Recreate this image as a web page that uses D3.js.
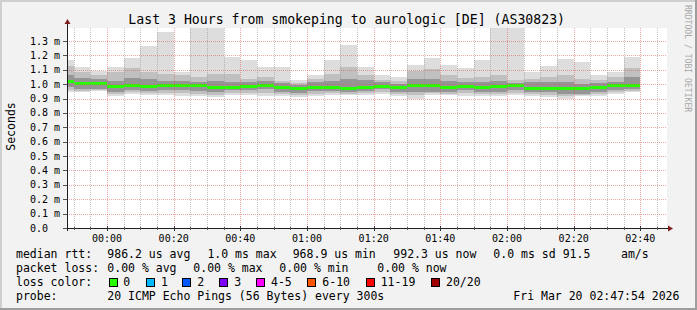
<!DOCTYPE html>
<html><head><meta charset="utf-8">
<script src="https://cdn.jsdelivr.net/npm/d3@7"></script>
<style>
html,body{margin:0;padding:0;background:#f2f2f2;}
svg{display:block;font-family:"DejaVu Sans Mono",monospace;}
text{white-space:pre;}
</style></head><body>
<svg id="c" width="697" height="310"></svg>
<script>
// ---- data (ms) : one entry per 5-minute step, labelled by step end time ----
const barEnd = ["23:50","23:55","00:00","00:05","00:10","00:15","00:20","00:25","00:30","00:35",
  "00:40","00:45","00:50","00:55","01:00","01:05","01:10","01:15","01:20","01:25",
  "01:30","01:35","01:40","01:45","01:50","01:55","02:00","02:05","02:10","02:15",
  "02:20","02:25","02:30","02:35","02:40"];
const maxV   = [1.170,1.117,1.094,1.122,1.180,1.267,1.360,1.083,1.420,1.410,
  1.186,1.170,1.117,1.122,1.032,1.064,1.170,1.274,1.117,1.060,
  1.048,1.136,1.180,1.136,1.113,1.170,1.400,1.410,1.083,1.129,
  1.175,1.152,1.060,1.083,1.186];
const midHi  = [1.124,1.083,1.064,1.083,1.110,1.083,1.071,1.060,1.048,1.071,
  1.071,1.037,1.048,1.025,1.009,1.037,1.071,1.117,1.064,1.032,
  1.025,1.094,1.106,1.060,1.041,1.048,1.064,1.032,1.037,1.048,
  1.060,1.037,1.032,1.048,1.110];
const darkHi = [1.060,1.044,1.037,1.025,1.041,1.037,1.025,1.025,1.018,1.025,
  1.018,1.013,1.025,1.009,0.995,1.013,1.025,1.037,1.030,1.013,
  1.002,1.037,1.037,1.025,1.018,1.013,1.025,1.009,1.013,1.013,
  1.018,1.002,1.009,1.018,1.048];
const median = [1.020,1.006,1.006,0.983,0.990,0.983,0.992,0.992,0.990,0.979,
  0.979,0.986,0.990,0.976,0.972,0.979,0.979,0.972,0.979,0.986,
  0.976,0.993,0.988,0.979,0.986,0.976,0.983,0.990,0.972,0.972,
  0.972,0.969,0.974,0.988,0.992];
const darkLo = [0.979,0.967,0.967,0.944,0.956,0.951,0.956,0.956,0.949,0.944,
  0.956,0.960,0.963,0.944,0.937,0.949,0.949,0.944,0.953,0.963,
  0.944,0.944,0.944,0.944,0.956,0.944,0.944,0.956,0.944,0.944,
  0.933,0.933,0.944,0.956,0.967];
const midLo  = [0.960,0.955,0.958,0.928,0.944,0.938,0.938,0.935,0.932,0.926,
  0.938,0.940,0.940,0.929,0.923,0.932,0.937,0.932,0.937,0.946,
  0.929,0.921,0.935,0.932,0.935,0.930,0.930,0.938,0.930,0.926,
  0.915,0.923,0.929,0.943,0.955];
const minV   = [0.944,0.944,0.949,0.914,0.933,0.926,0.921,0.916,0.916,0.909,
  0.921,0.921,0.916,0.914,0.909,0.916,0.926,0.921,0.921,0.930,
  0.914,0.898,0.926,0.921,0.914,0.916,0.916,0.921,0.916,0.909,
  0.898,0.914,0.914,0.930,0.944];

const yTickValues = [0,0.1,0.2,0.3,0.4,0.5,0.6,0.7,0.8,0.9,1.0,1.1,1.2,1.3];
const yTickLabels = ["0.0","0.1 m","0.2 m","0.3 m","0.4 m","0.5 m","0.6 m","0.7 m","0.8 m","0.9 m","1.0 m","1.1 m","1.2 m","1.3 m"];
const xTickLabels = ["00:00","00:20","00:40","01:00","01:20","01:40","02:00","02:20","02:40"];

const lossLabels = ["0","1","2","3","4-5","6-10","11-19","20/20"];
const lossColors = ["#26ff00","#00b8ff","#0059ff","#7e00ff","#ff00ff","#ff5500","#ff0000","#a10000"];

const titleText = "Last 3 Hours from smokeping to aurologic [DE] (AS30823)";
const legendRtt  = ["median rtt:","986.2 us avg","1.0 ms max","968.9 us min","992.3 us now","0.0 ms sd","91.5","am/s"];
const legendLoss = ["packet loss:","0.00 % avg","0.00 % max","0.00 % min","0.00 % now"];
const probeText = ["probe:","20 ICMP Echo Pings (56 Bytes) every 300s","Fri Mar 20 02:47:54 2026"];

// ---- layout ----
const W = 697, H = 310;
const X0 = 67, X1 = 667, Y0 = 228, Y1 = 28;
const svg = d3.select("#c");

function toDate(hm){
  const [h,m] = hm.split(":").map(Number);
  return new Date(Date.UTC(2026,2,h>=12?19:20,h,m));
}
const tStart = toDate("23:48"), tEnd = toDate("02:48");
const x = d3.scaleUtc().domain([tStart,tEnd]).range([X0,X1]);
const y = d3.scaleLinear().domain([0,1.39]).range([Y0,Y1]);

// background & frame
svg.append("rect").attr("width",W).attr("height",H).attr("fill","#f2f2f2");
svg.append("rect").attr("x",0).attr("y",0).attr("width",W).attr("height",2).attr("fill","#cfcfcf");
svg.append("rect").attr("x",0).attr("y",0).attr("width",2).attr("height",H).attr("fill","#cfcfcf");
svg.append("rect").attr("x",0).attr("y",H-2).attr("width",W).attr("height",2).attr("fill","#9e9e9e");
svg.append("rect").attr("x",W-2).attr("y",0).attr("width",2).attr("height",H).attr("fill","#9e9e9e");
svg.append("rect").attr("x",X0).attr("y",Y1).attr("width",X1-X0).attr("height",Y0-Y1).attr("fill","#ffffff");

const clip = svg.append("clipPath").attr("id","pc").append("rect")
  .attr("x",X0).attr("y",Y1).attr("width",X1-X0).attr("height",Y0-Y1);
const plot = svg.append("g").attr("clip-path","url(#pc)");

const bars = barEnd.map((t,i)=>{
  const e = toDate(t);
  const s = new Date(Math.max(+tStart, +e - 300000));
  return {s,e,i};
});
const layers = [
  {lo:minV, hi:maxV, c:"#dddddd"},
  {lo:midLo, hi:midHi, c:"#c0c0c0"},
  {lo:darkLo, hi:darkHi, c:"#959595"}
];
layers.forEach(L=>{
  plot.selectAll(null).data(bars).enter().append("rect")
    .attr("x",d=>x(d.s)).attr("width",d=>x(d.e)-x(d.s))
    .attr("y",d=>y(L.hi[d.i])).attr("height",d=>y(L.lo[d.i])-y(L.hi[d.i]))
    .attr("fill",L.c).attr("shape-rendering","crispEdges");
});
// median (loss 0 colour)
plot.selectAll(null).data(bars).enter().append("rect")
  .attr("x",d=>x(d.s)).attr("width",d=>x(d.e)-x(d.s))
  .attr("y",d=>y(median[d.i])-1.5).attr("height",3)
  .attr("fill",lossColors[0]).attr("shape-rendering","crispEdges");

// grid
const g = svg.append("g").attr("shape-rendering","crispEdges");
const minorT = d3.utcMinute.every(5).range(tStart, tEnd);
const majorT = xTickLabels.map(toDate);
g.selectAll(null).data(minorT.filter(t=>t.getUTCMinutes()%20!==0)).enter().append("line")
  .attr("x1",d=>Math.round(x(d))+0.5).attr("x2",d=>Math.round(x(d))+0.5)
  .attr("y1",Y1).attr("y2",Y0)
  .attr("stroke","rgba(143,143,143,0.55)").attr("stroke-dasharray","1,1");
g.selectAll(null).data(majorT).enter().append("line")
  .attr("x1",d=>Math.round(x(d))+0.5).attr("x2",d=>Math.round(x(d))+0.5)
  .attr("y1",Y1).attr("y2",Y0)
  .attr("stroke","rgba(222,79,79,0.5)").attr("stroke-dasharray","1,1");
g.selectAll(null).data(yTickValues.slice(1)).enter().append("line")
  .attr("x1",X0).attr("x2",X1)
  .attr("y1",d=>Math.round(y(d))+0.5).attr("y2",d=>Math.round(y(d))+0.5)
  .attr("stroke","rgba(222,79,79,0.5)").attr("stroke-dasharray","1,1");

// axes
const ax = svg.append("g").attr("shape-rendering","crispEdges");
ax.append("line").attr("x1",X0-3).attr("x2",X1+1).attr("y1",Y0+0.5).attr("y2",Y0+0.5).attr("stroke","#1f1f1f");
ax.append("line").attr("x1",X0+0.5).attr("x2",X0+0.5).attr("y1",Y0+3).attr("y2",Y1-4).attr("stroke","#1f1f1f");
ax.selectAll(null).data(yTickValues).enter().append("line")
  .attr("x1",X0-4).attr("x2",X0).attr("y1",d=>Math.round(y(d))+0.5).attr("y2",d=>Math.round(y(d))+0.5)
  .attr("stroke","#555");
ax.selectAll(null).data(minorT).enter().append("line")
  .attr("x1",d=>Math.round(x(d))+0.5).attr("x2",d=>Math.round(x(d))+0.5)
  .attr("y1",Y0-1).attr("y2",Y0+2).attr("stroke","#555");
ax.selectAll(null).data(majorT).enter().append("line")
  .attr("x1",d=>Math.round(x(d))+0.5).attr("x2",d=>Math.round(x(d))+0.5)
  .attr("y1",Y0-2).attr("y2",Y0+3).attr("stroke","#333");
// arrows
svg.append("path").attr("d",`M${X0-2.5},${Y1-4} L${X0+0.5},${Y1-9} L${X0+3.5},${Y1-4} Z`).attr("fill","#801f1f");
svg.append("path").attr("d",`M${X1+1},${Y0-2.5} L${X1+6},${Y0+0.5} L${X1+1},${Y0+3.5} Z`).attr("fill","#801f1f");

// axis labels
svg.selectAll(null).data(yTickValues).enter().append("text")
  .attr("x",30).attr("y",d=>y(d)+3.6).attr("font-size","10px").attr("fill","#000")
  .text((d,i)=>yTickLabels[i]);
svg.selectAll(null).data(majorT).enter().append("text")
  .attr("x",d=>x(d)).attr("y",242).attr("text-anchor","middle").attr("font-size","10px")
  .text((d,i)=>xTickLabels[i]);

// title & side texts
svg.append("text").attr("x",346.7).attr("y",23.5).attr("text-anchor","middle")
  .attr("font-size","13.2px").text(titleText);
svg.append("text").attr("transform","translate(14.5,126.5) rotate(-90)").attr("text-anchor","middle")
  .attr("font-size","11.5px").text("Seconds");
svg.append("text").attr("transform","translate(685,5) rotate(90)").attr("text-anchor","start")
  .attr("font-size","8.1px").attr("fill","#a8a8a8").text("RRDTOOL / TOBI OETIKER");

// legend
const fs = "11.5px";
function put(str, xx, yy){ svg.append("text").attr("x",xx).attr("y",yy).attr("font-size",fs).text(str); }
const rttX = [16,107.3,207.4,292.7,393.3,493.3,562.7,621];
legendRtt.forEach((s,i)=>put(s,rttX[i],258));
const lossX = [16,107.3,193.3,279.3,377.3];
legendLoss.forEach((s,i)=>put(s,lossX[i],272));
put("loss color:",16,286);
const boxX = [109,145.7,182.3,219.3,256,307.3,365.7,430.7];
const labX = [123.3,161,197.3,234.3,271,322.3,380.7,446];
lossLabels.forEach((s,i)=>{
  svg.append("rect").attr("x",Math.round(boxX[i])+0.5).attr("y",278.5).attr("width",8).attr("height",8)
    .attr("fill",lossColors[i]).attr("stroke","#000").attr("stroke-width",1);
  put(s,labX[i],286);
});
put(probeText[0],16,300);
put(probeText[1],107.3,300);
put(probeText[2],513.3,300);
</script>
</body></html>
